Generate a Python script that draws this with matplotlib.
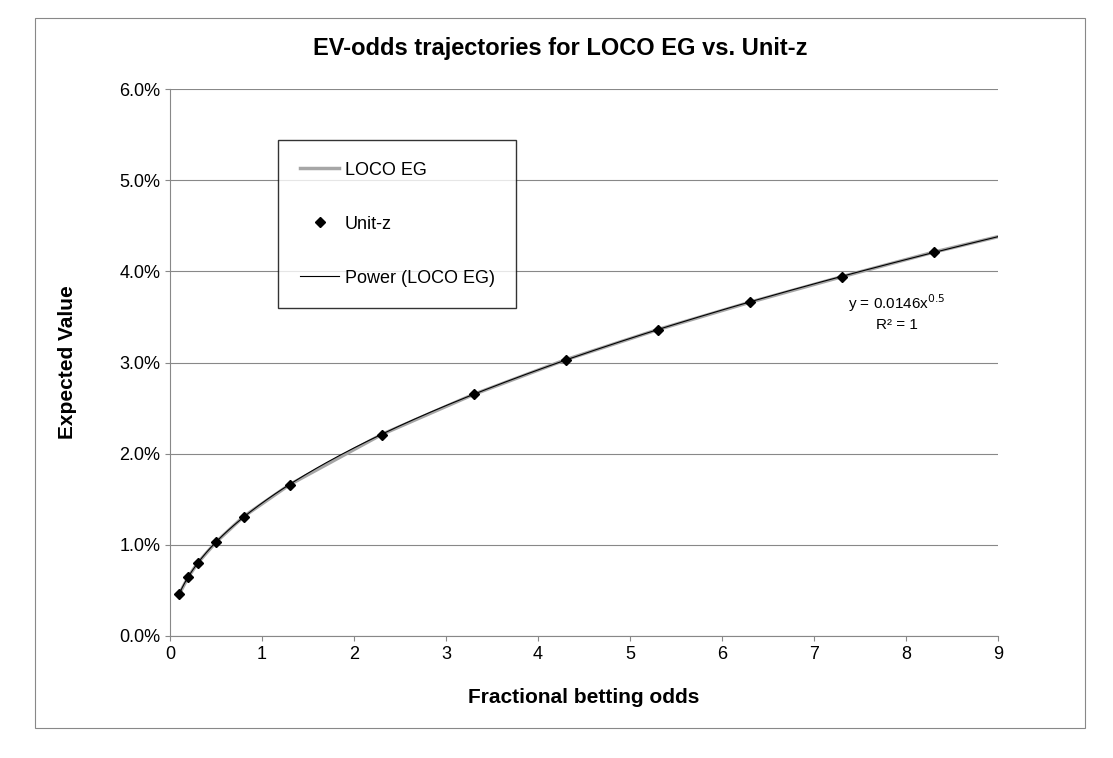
import numpy as np
import matplotlib.pyplot as plt
from matplotlib.ticker import PercentFormatter

# data
odds = [0.1, 0.2, 0.3, 0.5, 0.8, 1.3, 2.3, 3.3, 4.3, 5.3, 6.3, 7.3, 8.3]
unit_z = [0.46, 0.65, 0.80, 1.03, 1.31, 1.66, 2.21, 2.65, 3.03, 3.36, 3.66, 3.94, 4.21]
loco_x = odds + [9.0]
loco_eg = unit_z + [4.38]

plt.rcParams["font.family"] = "Liberation Sans"

fig = plt.figure(figsize=(11.13, 7.58), dpi=100)
# outer chart border
fig.patches.append(plt.Rectangle((35 / 1113, 1 - 728 / 758), 1050 / 1113, 710 / 758,
                                 transform=fig.transFigure, fill=False, ec="#888888", lw=0.8))
ax = fig.add_axes([170 / 1113, 1 - 636 / 758, 828 / 1113, 547 / 758])

# power trendline fitted in log space
b, loga = np.polyfit(np.log(loco_x), np.log(np.array(loco_eg) / 100), 1)
xt = np.linspace(0.1, 9, 300)
ax.plot(loco_x, loco_eg, color="#a6a6a6", lw=2.5, label="LOCO EG", zorder=2)
ax.plot(odds, unit_z, "D", color="black", ms=5.5, ls="none", label="Unit-z", zorder=4)
ax.plot(xt, np.exp(loga) * xt ** b * 100, color="black", lw=0.8, label="Power (LOCO EG)", zorder=3)

ax.set_xlim(0, 9)
ax.set_ylim(0, 6)
ax.set_xticks(range(10))
ax.set_yticks(np.arange(0, 6.1, 1))
ax.yaxis.set_major_formatter(PercentFormatter(decimals=1))
ax.grid(axis="y", color="#888888", lw=0.8)
ax.set_axisbelow(True)
for s in ["top", "right"]:
    ax.spines[s].set_visible(False)
ax.spines["left"].set_color("#888888")
ax.spines["bottom"].set_color("#888888")
ax.tick_params(labelsize=13, color="#888888")

ax.set_xlabel("Fractional betting odds", fontsize=15, fontweight="bold", labelpad=18)
ax.set_ylabel("Expected Value", fontsize=15, fontweight="bold", labelpad=30)
fig.text(560 / 1113, 1 - 48 / 758, "EV-odds trajectories for LOCO EG vs. Unit-z",
         ha="center", va="center", fontsize=17, fontweight="bold")

ax.text(7.9, 3.55, "y = 0.0146x$^{0.5}$\nR² = 1", ha="center", va="center", fontsize=11, linespacing=1.4)

leg = ax.legend(loc="upper left", bbox_to_anchor=((278 - 170) / 828, (636 - 140) / 547),
                fontsize=13, frameon=True, fancybox=False, edgecolor="black",
                labelspacing=2.05, borderpad=1.2, handlelength=2.2, handletextpad=0.3,
                borderaxespad=0)
leg.get_frame().set_linewidth(1.0)

fig.savefig("out.png", dpi=100)
